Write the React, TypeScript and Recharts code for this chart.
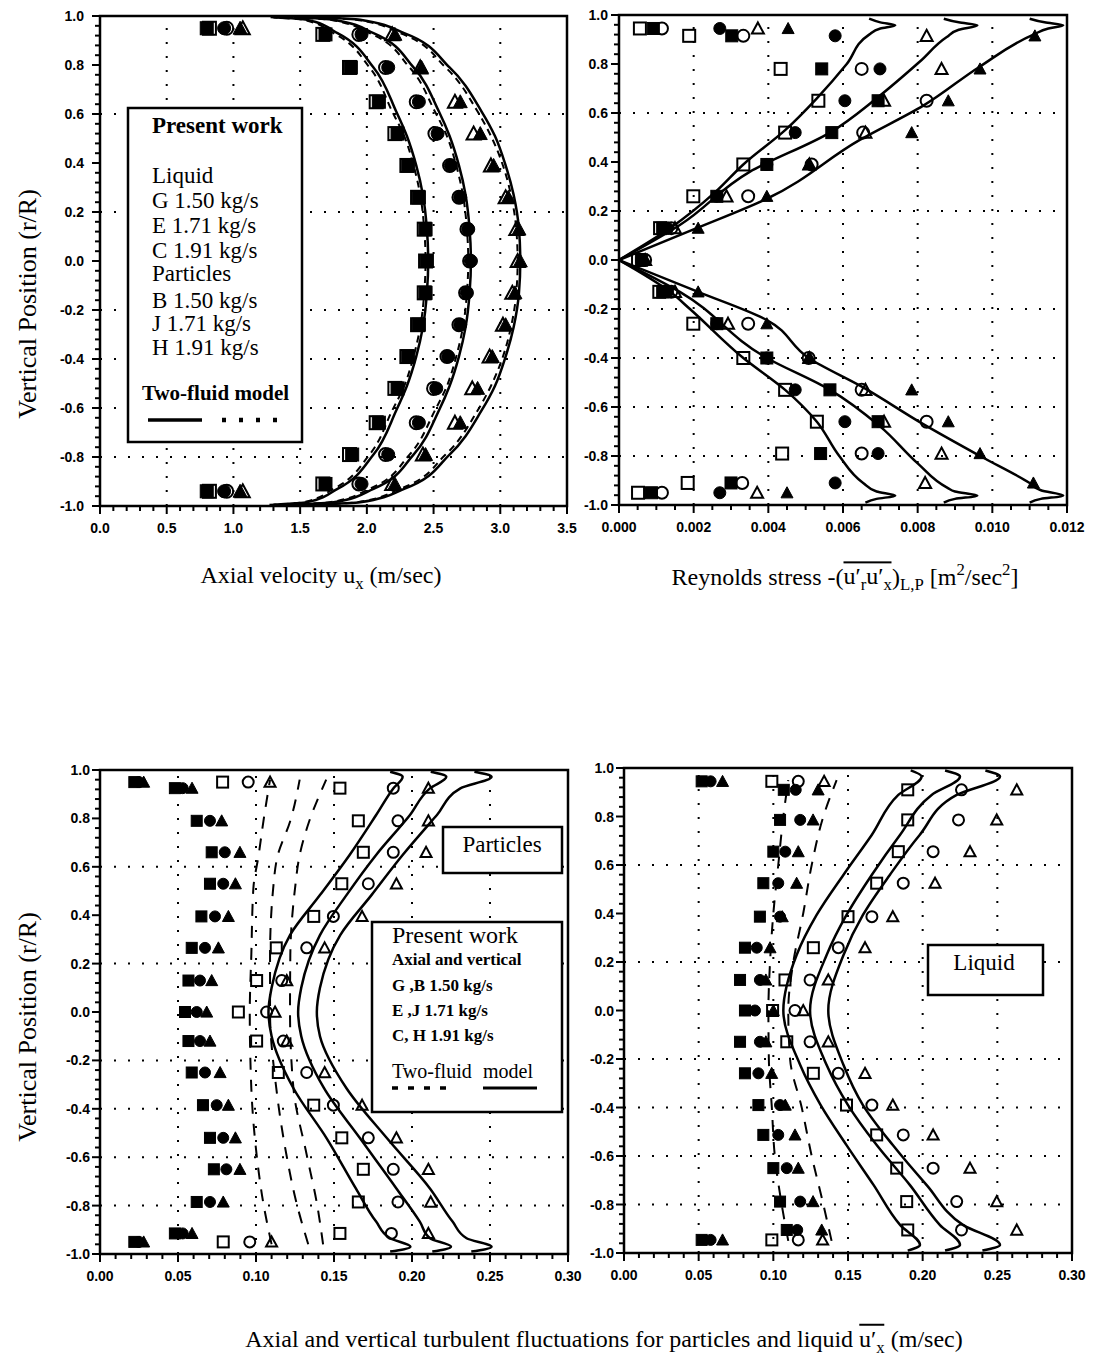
import React from 'react';
import { ScatterChart, Scatter, XAxis, YAxis, ReferenceLine, ReferenceArea } from 'recharts';

// ---------- top-left: axial velocity ----------
const rowsVel = [0.95, 0.925, 0.79, 0.65, 0.52, 0.39, 0.26, 0.13, 0, -0.13, -0.26, -0.39, -0.52, -0.66, -0.79, -0.91, -0.94];
const velLiqG = [0.8, 1.69, 1.88, 2.09, 2.23, 2.31, 2.39, 2.44, 2.45, 2.44, 2.39, 2.31, 2.23, 2.09, 1.89, 1.69, 0.8];
const velLiqE = [0.93, 1.96, 2.16, 2.39, 2.53, 2.63, 2.7, 2.76, 2.78, 2.75, 2.7, 2.61, 2.52, 2.39, 2.16, 1.96, 0.93];
const velLiqC = [1.05, 2.21, 2.41, 2.7, 2.85, 2.95, 3.06, 3.14, 3.15, 3.11, 3.04, 2.94, 2.83, 2.7, 2.44, 2.21, 1.05];
const velParB = [0.82, 1.67, 1.87, 2.07, 2.21, 2.3, 2.38, 2.43, 2.44, 2.43, 2.38, 2.3, 2.21, 2.07, 1.87, 1.67, 0.82];
const velParJ = [0.95, 1.94, 2.14, 2.37, 2.51, 2.62, 2.69, 2.75, 2.77, 2.74, 2.69, 2.6, 2.5, 2.37, 2.14, 1.94, 0.95];
const velParH = [1.07, 2.19, 2.4, 2.66, 2.8, 2.93, 3.04, 3.12, 3.13, 3.09, 3.02, 2.92, 2.79, 2.66, 2.42, 2.19, 1.07];

const rVelModel = [-0.995, -0.985, -0.93, -0.79, -0.61, -0.51, -0.39, -0.27, -0.13, 0, 0.13, 0.27, 0.39, 0.51, 0.61, 0.79, 0.93, 0.985, 0.995];
const velModelLiqG = [1.3, 1.55, 1.78, 2.05, 2.22, 2.3, 2.37, 2.42, 2.45, 2.46, 2.45, 2.42, 2.37, 2.3, 2.22, 2.05, 1.78, 1.55, 1.3];
const velModelLiqE = [1.45, 1.75, 2.05, 2.35, 2.54, 2.62, 2.69, 2.74, 2.77, 2.78, 2.77, 2.74, 2.69, 2.62, 2.54, 2.35, 2.05, 1.75, 1.45];
const velModelLiqC = [1.6, 1.95, 2.28, 2.62, 2.86, 2.96, 3.04, 3.1, 3.14, 3.15, 3.14, 3.1, 3.04, 2.96, 2.86, 2.62, 2.28, 1.95, 1.6];
const velModelParB = [1.27, 1.52, 1.75, 2.02, 2.19, 2.28, 2.35, 2.4, 2.43, 2.44, 2.43, 2.4, 2.35, 2.28, 2.19, 2.02, 1.75, 1.52, 1.27];
const velModelParJ = [1.42, 1.72, 2.02, 2.32, 2.51, 2.6, 2.67, 2.72, 2.75, 2.76, 2.75, 2.72, 2.67, 2.6, 2.51, 2.32, 2.02, 1.72, 1.42];
const velModelParH = [1.57, 1.92, 2.25, 2.59, 2.83, 2.93, 3.02, 3.08, 3.12, 3.13, 3.12, 3.08, 3.02, 2.93, 2.83, 2.59, 2.25, 1.92, 1.57];

// ---------- top-right: Reynolds stress ----------
const rowsStress = [0.945, 0.915, 0.78, 0.65, 0.52, 0.39, 0.26, 0.13, 0, -0.13, -0.26, -0.4, -0.53, -0.66, -0.79, -0.91, -0.95];
const stressOpenSq = [0.00056, 0.00188, 0.00433, 0.00534, 0.00445, 0.00333, 0.00199, 0.0011, 0.00051, 0.00108, 0.00199, 0.00333, 0.00445, 0.0053, 0.00437, 0.00184, 0.00051];
const stressFillSq = [0.00092, 0.00302, 0.00543, 0.00694, 0.0057, 0.00396, 0.00262, 0.00117, 0.0006, 0.00117, 0.00262, 0.00396, 0.00565, 0.00694, 0.0054, 0.003, 0.00087];
const stressOpenCi = [0.00115, 0.00333, 0.0065, 0.00824, 0.00654, 0.00516, 0.00346, 0.0014, 0.0007, 0.0014, 0.00346, 0.00508, 0.0065, 0.00824, 0.0065, 0.0033, 0.00115];
const stressFillCi = [0.0027, 0.00579, 0.00699, 0.00605, 0.00472, 0.00396, 0.00262, 0.0013, 0.0006, 0.0013, 0.00262, 0.00396, 0.00472, 0.00605, 0.00694, 0.00579, 0.0027];
const stressOpenTr = [0.00372, 0.00824, 0.00864, 0.0071, 0.0066, 0.0051, 0.00288, 0.0015, 0.0007, 0.0015, 0.00292, 0.0051, 0.0066, 0.0071, 0.00864, 0.0082, 0.0037];
const stressFillTr = [0.00453, 0.01114, 0.00967, 0.00882, 0.00784, 0.00508, 0.00396, 0.00212, 0.0007, 0.00212, 0.00396, 0.00508, 0.00784, 0.00882, 0.00967, 0.0111, 0.0045];

const rStressUp1 = [0, 0.13, 0.28, 0.39, 0.53, 0.66, 0.8, 0.92, 0.945, 0.958, 0.97, 0.985];
const stressUp1 = [0, 0.00137, 0.0026, 0.00333, 0.00445, 0.0053, 0.0061, 0.0067, 0.007, 0.0074, 0.007, 0.0067];
const rStressUp2 = [0, 0.143, 0.36, 0.52, 0.66, 0.81, 0.91, 0.94, 0.958, 0.97, 0.985];
const stressUp2 = [0, 0.00163, 0.0035, 0.00565, 0.0069, 0.00806, 0.00878, 0.0091, 0.0096, 0.0091, 0.0087];
const rStressUp3 = [0, 0.13, 0.25, 0.49, 0.63, 0.79, 0.92, 0.945, 0.958, 0.97, 0.985];
const stressUp3 = [0, 0.00208, 0.00396, 0.00645, 0.00815, 0.00967, 0.0111, 0.0115, 0.0119, 0.0114, 0.011];
const rStressDn1 = [0, -0.13, -0.2, -0.4, -0.53, -0.66, -0.8, -0.91, -0.945, -0.962, -0.975, -0.99];
const stressDn1 = [0, 0.00137, 0.0019, 0.00333, 0.00445, 0.0053, 0.0059, 0.00654, 0.0069, 0.0074, 0.0069, 0.0066];
const rStressDn2 = [0, -0.13, -0.4, -0.53, -0.68, -0.83, -0.93, -0.945, -0.962, -0.975, -0.99];
const stressDn2 = [0, 0.00163, 0.00396, 0.00565, 0.007, 0.008, 0.0088, 0.009, 0.0096, 0.009, 0.0087];
const rStressDn3 = [0, -0.13, -0.245, -0.4, -0.52, -0.67, -0.8, -0.91, -0.94, -0.962, -0.975, -0.99];
const stressDn3 = [0, 0.00212, 0.00396, 0.00508, 0.00654, 0.00815, 0.00967, 0.011, 0.0113, 0.0119, 0.0113, 0.011];

// ---------- bottom-left: particle fluctuations ----------
const rowsPart = [0.95, 0.925, 0.79, 0.66, 0.53, 0.395, 0.265, 0.13, 0, -0.12, -0.25, -0.385, -0.52, -0.65, -0.785, -0.915, -0.95];
const partFillSq = [0.022, 0.048, 0.062, 0.0716, 0.0705, 0.065, 0.0588, 0.0567, 0.0545, 0.0567, 0.0588, 0.066, 0.0705, 0.073, 0.062, 0.048, 0.022];
const partFillCi = [0.025, 0.053, 0.0705, 0.08, 0.079, 0.0737, 0.0673, 0.0641, 0.062, 0.0641, 0.0673, 0.0748, 0.079, 0.081, 0.0705, 0.053, 0.025];
const partFillTr = [0.028, 0.059, 0.078, 0.0897, 0.0868, 0.0823, 0.0759, 0.0716, 0.0684, 0.0705, 0.077, 0.0823, 0.0868, 0.0897, 0.079, 0.059, 0.028];
const partOpenSq = [0.0786, 0.1538, 0.1656, 0.1688, 0.155, 0.137, 0.113, 0.1004, 0.0887, 0.1004, 0.1143, 0.137, 0.155, 0.1688, 0.1656, 0.1538, 0.079];
const partOpenCi = [0.095, 0.188, 0.191, 0.188, 0.172, 0.1496, 0.1325, 0.1165, 0.1068, 0.1175, 0.1325, 0.1496, 0.172, 0.188, 0.191, 0.1868, 0.096];
const partOpenTr = [0.109, 0.2105, 0.2105, 0.209, 0.19, 0.168, 0.144, 0.1197, 0.1122, 0.1197, 0.144, 0.168, 0.19, 0.2105, 0.212, 0.2105, 0.11];

const rPartModel = [-0.99, -0.97, -0.935, -0.866, -0.729, -0.522, -0.315, -0.1, 0, 0.1, 0.318, 0.483, 0.649, 0.814, 0.924, 0.972, 0.993];
const partModelG = [0.186, 0.199, 0.186, 0.177, 0.164, 0.1453, 0.124, 0.11, 0.108, 0.11, 0.1218, 0.141, 0.16, 0.177, 0.188, 0.194, 0.186];
const partModelE = [0.213, 0.225, 0.2115, 0.205, 0.19, 0.1667, 0.1436, 0.129, 0.127, 0.129, 0.141, 0.158, 0.177, 0.1987, 0.2115, 0.222, 0.212];
const partModelC = [0.238, 0.251, 0.235, 0.226, 0.2115, 0.184, 0.158, 0.141, 0.139, 0.141, 0.154, 0.174, 0.194, 0.216, 0.231, 0.251, 0.24];
const rPartDash = [-0.96, -0.79, -0.59, -0.315, 0, 0.236, 0.51, 0.649, 0.786, 0.96];
const partDashB = [0.11, 0.1047, 0.1004, 0.097, 0.096, 0.097, 0.0983, 0.1017, 0.1047, 0.109];
const partDashJ = [0.1335, 0.126, 0.1195, 0.113, 0.109, 0.109, 0.111, 0.114, 0.1218, 0.128];
const partDashH = [0.143, 0.139, 0.1325, 0.124, 0.1218, 0.122, 0.125, 0.128, 0.134, 0.145];

// ---------- bottom-right: liquid fluctuations ----------
const rowsLiq = [0.945, 0.91, 0.786, 0.655, 0.525, 0.387, 0.259, 0.126, 0, -0.129, -0.259, -0.39, -0.513, -0.65, -0.788, -0.905, -0.946];
const liqFillSq = [0.052, 0.107, 0.1045, 0.1, 0.0933, 0.091, 0.081, 0.0777, 0.081, 0.0777, 0.081, 0.09, 0.0933, 0.1, 0.1045, 0.109, 0.052];
const liqFillCi = [0.058, 0.115, 0.118, 0.108, 0.1033, 0.1045, 0.0889, 0.091, 0.0877, 0.091, 0.09, 0.1045, 0.1033, 0.109, 0.118, 0.116, 0.058];
const liqFillTr = [0.066, 0.13, 0.1266, 0.1167, 0.1156, 0.106, 0.0978, 0.095, 0.1, 0.095, 0.0989, 0.108, 0.1145, 0.1167, 0.1266, 0.1324, 0.066];
const liqOpenSq = [0.099, 0.19, 0.19, 0.1837, 0.1692, 0.15, 0.1268, 0.1078, 0.0995, 0.109, 0.1268, 0.149, 0.1692, 0.1826, 0.1893, 0.19, 0.099];
const liqOpenCi = [0.1167, 0.226, 0.224, 0.207, 0.187, 0.166, 0.1435, 0.1246, 0.1145, 0.1246, 0.1435, 0.166, 0.187, 0.207, 0.2228, 0.226, 0.1167];
const liqOpenTr = [0.134, 0.263, 0.2496, 0.2317, 0.2083, 0.18, 0.1614, 0.1368, 0.12, 0.1368, 0.1614, 0.18, 0.207, 0.2317, 0.2496, 0.263, 0.133];

const rLiqModel = [-0.99, -0.967, -0.885, -0.72, -0.555, -0.39, -0.225, 0, 0.229, 0.394, 0.559, 0.724, 0.889, 0.965, 0.99];
const liqModelG = [0.19, 0.1982, 0.185, 0.1672, 0.149, 0.1317, 0.118, 0.1067, 0.1156, 0.129, 0.1469, 0.1659, 0.1837, 0.1993, 0.192];
const liqModelE = [0.215, 0.225, 0.2116, 0.1915, 0.1692, 0.15, 0.1357, 0.1246, 0.1357, 0.149, 0.1659, 0.1848, 0.206, 0.225, 0.215];
const liqModelC = [0.24, 0.2518, 0.2272, 0.2027, 0.18, 0.16, 0.147, 0.1368, 0.147, 0.16, 0.178, 0.198, 0.2228, 0.2518, 0.242];
const rLiqDash = [-0.95, -0.8, -0.6, -0.4, -0.2, 0, 0.2, 0.4, 0.6, 0.8, 0.95];
const liqDash1 = [0.11, 0.1056, 0.101, 0.099, 0.097, 0.0967, 0.0978, 0.1, 0.1033, 0.1067, 0.11];
const liqDash2 = [0.139, 0.1335, 0.1257, 0.119, 0.1112, 0.11, 0.1134, 0.12, 0.1257, 0.1335, 0.1424];

// ---------- axes ----------
const yMajors = [-1, -0.8, -0.6, -0.4, -0.2, 0, 0.2, 0.4, 0.6, 0.8, 1];
const yGrid = [0.6, 0.2, -0.2, -0.4, -0.6, -0.8];
const velTicks = [0, 0.5, 1, 1.5, 2, 2.5, 3, 3.5];
const stressTicks = [0, 0.002, 0.004, 0.006, 0.008, 0.01, 0.012];
const flucTicks = [0, 0.05, 0.1, 0.15, 0.2, 0.25, 0.3];

type Pt = { x: number; y: number };
type Kind = 'square' | 'circle' | 'triangle';

const zip = (ys: number[], xs: number[]): Pt[] => xs.map((x, i) => ({ x, y: ys[i] }));

const subdivide = (majors: number[], n: number) => {
  const out: number[] = [];
  for (let i = 0; i < majors.length - 1; i++) {
    for (let j = 0; j < n; j++) out.push(+(majors[i] + ((majors[i + 1] - majors[i]) * j) / n).toFixed(6));
  }
  out.push(majors[majors.length - 1]);
  return out;
};

const isMajor = (v: number, majors: number[]) => majors.some((m) => Math.abs(m - v) < 1e-9);

const tickFont: React.CSSProperties = {
  fontFamily: '"Liberation Sans", Arial, sans-serif',
  fontWeight: 700,
  fontSize: 14,
};

const makeMarker = (kind: Kind, filled: boolean, size: number) => (props: any) => {
  const { cx, cy } = props;
  if (typeof cx !== 'number' || typeof cy !== 'number') return <g />;
  const h = size / 2;
  const fill = filled ? '#000' : 'none';
  const sw = filled ? 1 : 2;
  if (kind === 'square') {
    return <rect x={cx - h} y={cy - h} width={size} height={size} fill={fill} stroke="#000" strokeWidth={sw} />;
  }
  if (kind === 'circle') {
    return <circle cx={cx} cy={cy} r={h} fill={fill} stroke="#000" strokeWidth={sw} />;
  }
  return (
    <polygon
      points={`${cx},${cy - h} ${cx + h},${cy + h * 0.85} ${cx - h},${cy + h * 0.85}`}
      fill={fill}
      stroke="#000"
      strokeWidth={sw}
    />
  );
};

const noPoint = () => <g />;

interface MarkerSeries {
  xs: number[];
  kind: Kind;
  filled: boolean;
  size: number;
}

interface LineSeries {
  rs: number[];
  xs: number[];
  dash?: string;
  width?: number;
}

interface PanelProps {
  left: number;
  top: number;
  width: number;
  height: number;
  marginTop: number;
  marginRight: number;
  yAxisWidth: number;
  xAxisHeight: number;
  xMajors: number[];
  xMinorN: number;
  xDigits: number;
  yLabelGap: number;
  rows: number[];
  markers: MarkerSeries[];
  lines: LineSeries[];
}

const Panel: React.FC<PanelProps> = (p) => {
  const xMin = p.xMajors[0];
  const xMax = p.xMajors[p.xMajors.length - 1];
  const xTicks = subdivide(p.xMajors, p.xMinorN);
  const yTicks = subdivide(yMajors, 5);
  const xGrid = p.xMajors.slice(1, -1);

  return (
    <div style={{ position: 'absolute', left: p.left, top: p.top }}>
      <ScatterChart
        width={p.width}
        height={p.height}
        margin={{ top: p.marginTop, right: p.marginRight, bottom: 0, left: 0 }}
      >
        <XAxis
          type="number"
          dataKey="x"
          domain={[xMin, xMax]}
          ticks={xTicks}
          interval={0}
          allowDataOverflow
          height={p.xAxisHeight}
          tickSize={0}
          tickMargin={0}
          tickLine={false}
          axisLine={{ stroke: '#000', strokeWidth: 2 }}
          tick={(t: any) => {
            const major = isMajor(t.payload.value, p.xMajors);
            return (
              <g>
                <line x1={t.x} x2={t.x} y1={t.y} y2={t.y + (major ? 8 : 5)} stroke="#000" strokeWidth={2} />
                {major && (
                  <text x={t.x} y={t.y + 27} textAnchor="middle" style={tickFont} fill="#000">
                    {Number(t.payload.value).toFixed(p.xDigits)}
                  </text>
                )}
              </g>
            );
          }}
        />
        <YAxis
          type="number"
          dataKey="y"
          domain={[-1, 1]}
          ticks={yTicks}
          interval={0}
          allowDataOverflow
          width={p.yAxisWidth}
          tickSize={0}
          tickMargin={0}
          tickLine={false}
          axisLine={{ stroke: '#000', strokeWidth: 2 }}
          tick={(t: any) => {
            const major = isMajor(t.payload.value, yMajors);
            return (
              <g>
                <line x1={t.x} x2={t.x - (major ? 8 : 5)} y1={t.y} y2={t.y} stroke="#000" strokeWidth={2} />
                {major && (
                  <text x={t.x - p.yLabelGap} y={t.y + 5} textAnchor="end" style={tickFont} fill="#000">
                    {Number(t.payload.value).toFixed(1)}
                  </text>
                )}
              </g>
            );
          }}
        />
        {xGrid.map((v) => (
          <ReferenceLine key={`gx${v}`} x={v} stroke="#000" strokeWidth={2} strokeDasharray="2 12" />
        ))}
        {yGrid.map((v) => (
          <ReferenceLine key={`gy${v}`} y={v} stroke="#000" strokeWidth={2} strokeDasharray="2 12" />
        ))}
        {p.lines.map((l, i) => (
          <Scatter
            key={`line${i}`}
            data={zip(l.rs, l.xs)}
            line={{ stroke: '#000', strokeWidth: l.width ?? 2.5, strokeDasharray: l.dash, fill: 'none' }}
            lineJointType="monotoneY"
            shape={noPoint}
            isAnimationActive={false}
          />
        ))}
        {p.markers.map((m, i) => (
          <Scatter
            key={`mk${i}`}
            data={zip(p.rows, m.xs)}
            shape={makeMarker(m.kind, m.filled, m.size)}
            isAnimationActive={false}
          />
        ))}
        <ReferenceArea x1={xMin} x2={xMax} y1={-1} y2={1} fill="none" stroke="#000" strokeWidth={2.5} ifOverflow="visible" />
      </ScatterChart>
    </div>
  );
};

const serif = '"Liberation Serif", "Times New Roman", serif';
const subStyle: React.CSSProperties = { fontSize: '0.7em', verticalAlign: '-0.35em' };
const supStyle: React.CSSProperties = { fontSize: '0.7em', verticalAlign: '0.55em' };
const barStyle: React.CSSProperties = { display: 'inline-block', borderTop: '2px solid #000', lineHeight: 1.05, paddingTop: 1 };
const captionStyle: React.CSSProperties = {
  position: 'absolute',
  transform: 'translate(-50%, -50%)',
  fontSize: 24,
  whiteSpace: 'nowrap',
  lineHeight: 1.2,
};

const App: React.FC = () => {
  const velMarkers: MarkerSeries[] = [
    { xs: velParB, kind: 'square', filled: false, size: 13 },
    { xs: velParJ, kind: 'circle', filled: false, size: 13 },
    { xs: velParH, kind: 'triangle', filled: false, size: 14 },
    { xs: velLiqG, kind: 'square', filled: true, size: 13 },
    { xs: velLiqE, kind: 'circle', filled: true, size: 13 },
    { xs: velLiqC, kind: 'triangle', filled: true, size: 14 },
  ];
  const velLines: LineSeries[] = [
    { rs: rVelModel, xs: velModelLiqG },
    { rs: rVelModel, xs: velModelLiqE },
    { rs: rVelModel, xs: velModelLiqC },
    { rs: rVelModel, xs: velModelParB, dash: '7 5', width: 2 },
    { rs: rVelModel, xs: velModelParJ, dash: '7 5', width: 2 },
    { rs: rVelModel, xs: velModelParH, dash: '7 5', width: 2 },
  ];
  const stressMarkers: MarkerSeries[] = [
    { xs: stressOpenSq, kind: 'square', filled: false, size: 12 },
    { xs: stressFillSq, kind: 'square', filled: true, size: 12 },
    { xs: stressOpenCi, kind: 'circle', filled: false, size: 12 },
    { xs: stressFillCi, kind: 'circle', filled: true, size: 12 },
    { xs: stressOpenTr, kind: 'triangle', filled: false, size: 12 },
    { xs: stressFillTr, kind: 'triangle', filled: true, size: 12 },
  ];
  const stressLines: LineSeries[] = [
    { rs: rStressUp1, xs: stressUp1 },
    { rs: rStressUp2, xs: stressUp2 },
    { rs: rStressUp3, xs: stressUp3 },
    { rs: rStressDn1, xs: stressDn1 },
    { rs: rStressDn2, xs: stressDn2 },
    { rs: rStressDn3, xs: stressDn3 },
  ];
  const partMarkers: MarkerSeries[] = [
    { xs: partFillSq, kind: 'square', filled: true, size: 11 },
    { xs: partFillCi, kind: 'circle', filled: true, size: 11 },
    { xs: partFillTr, kind: 'triangle', filled: true, size: 12 },
    { xs: partOpenSq, kind: 'square', filled: false, size: 11 },
    { xs: partOpenCi, kind: 'circle', filled: false, size: 11 },
    { xs: partOpenTr, kind: 'triangle', filled: false, size: 11 },
  ];
  const partLines: LineSeries[] = [
    { rs: rPartModel, xs: partModelG },
    { rs: rPartModel, xs: partModelE },
    { rs: rPartModel, xs: partModelC },
    { rs: rPartDash, xs: partDashB, dash: '12 10', width: 2 },
    { rs: rPartDash, xs: partDashJ, dash: '12 10', width: 2 },
    { rs: rPartDash, xs: partDashH, dash: '12 10', width: 2 },
  ];
  const liqMarkers: MarkerSeries[] = [
    { xs: liqFillSq, kind: 'square', filled: true, size: 11 },
    { xs: liqFillCi, kind: 'circle', filled: true, size: 11 },
    { xs: liqFillTr, kind: 'triangle', filled: true, size: 12 },
    { xs: liqOpenSq, kind: 'square', filled: false, size: 11 },
    { xs: liqOpenCi, kind: 'circle', filled: false, size: 11 },
    { xs: liqOpenTr, kind: 'triangle', filled: false, size: 11 },
  ];
  const liqLines: LineSeries[] = [
    { rs: rLiqModel, xs: liqModelG },
    { rs: rLiqModel, xs: liqModelE },
    { rs: rLiqModel, xs: liqModelC },
    { rs: rLiqDash, xs: liqDash1, dash: '12 10', width: 2 },
    { rs: rLiqDash, xs: liqDash2, dash: '12 10', width: 2 },
  ];

  const legendText = { fontFamily: serif, fill: '#000' } as const;

  return (
    <div
      style={{
        position: 'absolute',
        left: 0,
        top: 0,
        width: 1115,
        height: 1368,
        background: '#fff',
        fontFamily: serif,
        color: '#000',
      }}
    >
      <Panel left={0} top={0} width={595} height={545} marginTop={16} marginRight={28} yAxisWidth={100} xAxisHeight={39}
        xMajors={velTicks} xMinorN={5} xDigits={1} yLabelGap={16} rows={rowsVel} markers={velMarkers} lines={velLines} />
      <Panel left={570} top={0} width={545} height={545} marginTop={15} marginRight={48} yAxisWidth={49} xAxisHeight={40}
        xMajors={stressTicks} xMinorN={4} xDigits={3} yLabelGap={11} rows={rowsStress} markers={stressMarkers} lines={stressLines} />
      <Panel left={0} top={740} width={598} height={550} marginTop={30} marginRight={30} yAxisWidth={100} xAxisHeight={36}
        xMajors={flucTicks} xMinorN={5} xDigits={2} yLabelGap={10} rows={rowsPart} markers={partMarkers} lines={partLines} />
      <Panel left={570} top={740} width={545} height={550} marginTop={28} marginRight={43} yAxisWidth={54} xAxisHeight={37}
        xMajors={flucTicks} xMinorN={5} xDigits={2} yLabelGap={10} rows={rowsLiq} markers={liqMarkers} lines={liqLines} />

      <svg width={1115} height={1368} style={{ position: 'absolute', left: 0, top: 0, pointerEvents: 'none' }}>
        {/* y axis titles */}
        <text x={27} y={304} transform="rotate(-90 27 304)" textAnchor="middle" dominantBaseline="central" fontSize={26} style={legendText}>
          Vertical Position (r/R)
        </text>
        <text x={27} y={1027} transform="rotate(-90 27 1027)" textAnchor="middle" dominantBaseline="central" fontSize={26} style={legendText}>
          Vertical Position (r/R)
        </text>

        {/* top-left legend */}
        <rect x={128} y={108} width={174} height={334} fill="#fff" stroke="#000" strokeWidth={2.5} />
        <text x={152} y={133} fontSize={23} fontWeight={700} style={legendText}>Present work</text>
        <text x={152} y={183} fontSize={23} style={legendText}>Liquid</text>
        <text x={152} y={208} fontSize={23} style={legendText}>G 1.50 kg/s</text>
        <text x={152} y={233} fontSize={23} style={legendText}>E 1.71 kg/s</text>
        <text x={152} y={258} fontSize={23} style={legendText}>C 1.91 kg/s</text>
        <text x={152} y={281} fontSize={23} style={legendText}>Particles</text>
        <text x={152} y={308} fontSize={23} style={legendText}>B 1.50 kg/s</text>
        <text x={152} y={331} fontSize={23} style={legendText}>J 1.71 kg/s</text>
        <text x={152} y={355} fontSize={23} style={legendText}>H 1.91 kg/s</text>
        <text x={142} y={400} fontSize={21} fontWeight={700} style={legendText}>Two-fluid model</text>
        <line x1={148} x2={202} y1={420} y2={420} stroke="#000" strokeWidth={3.5} />
        <line x1={222} x2={278} y1={420} y2={420} stroke="#000" strokeWidth={4.5} strokeDasharray="4 13" />

        {/* bottom-left legends */}
        <rect x={443} y={827} width={119} height={46} fill="#fff" stroke="#000" strokeWidth={2.5} />
        <text x={502} y={852} fontSize={23} textAnchor="middle" style={legendText}>Particles</text>
        <rect x={372} y={922} width={190} height={190} fill="#fff" stroke="#000" strokeWidth={2.5} />
        <text x={392} y={943} fontSize={24} style={legendText}>Present work</text>
        <text x={392} y={965} fontSize={17} fontWeight={700} style={legendText}>Axial and vertical</text>
        <text x={392} y={991} fontSize={17} fontWeight={700} style={legendText}>G ,B 1.50 kg/s</text>
        <text x={392} y={1016} fontSize={17} fontWeight={700} style={legendText}>E ,J 1.71 kg/s</text>
        <text x={392} y={1041} fontSize={17} fontWeight={700} style={legendText}>C, H 1.91 kg/s</text>
        <text x={392} y={1078} fontSize={20} style={legendText}>Two-fluid</text>
        <text x={483} y={1078} fontSize={20} style={legendText}>model</text>
        <line x1={392} x2={449} y1={1088} y2={1088} stroke="#000" strokeWidth={3.5} strokeDasharray="6 10" />
        <line x1={483} x2={537} y1={1088} y2={1088} stroke="#000" strokeWidth={3} />

        {/* bottom-right legend */}
        <rect x={928} y={945} width={115} height={50} fill="#fff" stroke="#000" strokeWidth={2.5} />
        <text x={984} y={970} fontSize={23} textAnchor="middle" style={legendText}>Liquid</text>
      </svg>

      <div style={{ ...captionStyle, left: 321, top: 578 }}>
        Axial velocity u<span style={subStyle}>x</span> (m/sec)
      </div>
      <div style={{ ...captionStyle, left: 845, top: 578 }}>
        Reynolds stress -(
        <span style={barStyle}>
          u′<span style={subStyle}>r</span>u′<span style={subStyle}>x</span>
        </span>
        )<span style={subStyle}>L,P</span> [m<span style={supStyle}>2</span>/sec<span style={supStyle}>2</span>]
      </div>
      <div style={{ ...captionStyle, left: 604, top: 1340 }}>
        Axial and vertical turbulent fluctuations for particles and liquid{' '}
        <span style={barStyle}>
          u′<span style={subStyle}>x</span>
        </span>{' '}
        (m/sec)
      </div>
    </div>
  );
};

export default App;
